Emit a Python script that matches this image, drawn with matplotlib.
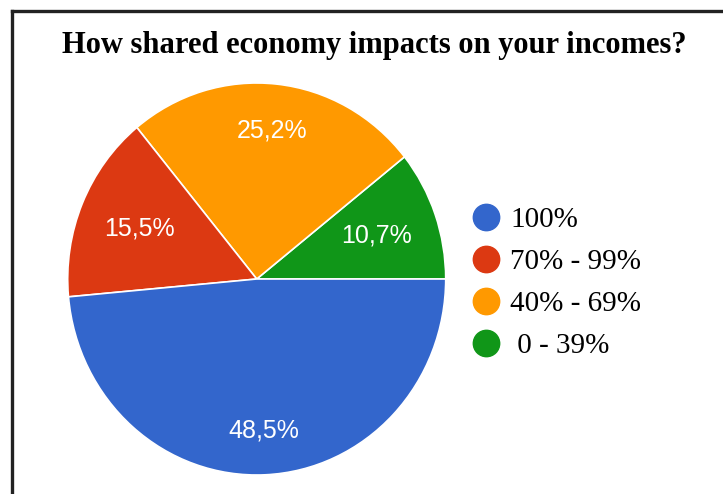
import matplotlib
matplotlib.use("Agg")
import matplotlib.pyplot as plt
from matplotlib.lines import Line2D
import numpy as np

title = "How shared economy impacts on your incomes?"
# slices drawn counter-clockwise from 3 o'clock
slice_labels = ["0 - 39%", "40% - 69%", "70% - 99%", "100%"]
shares = [10.7, 25.2, 15.5, 48.5]
colors = ["#109618", "#ff9900", "#dc3912", "#3366cc"]
# legend lists the groups the other way round
legend_order = [3, 2, 1, 0]
legend_text = ["100%", "70% - 99%", "40% - 69%", " 0 - 39%"]

W, H = 723, 494
fig = plt.figure(figsize=(W / 100, H / 100), dpi=100)
fig.patch.set_facecolor("white")

# frame lines along the top and left
fig.add_artist(Line2D([11.5 / W, 11.5 / W], [0, 1 - 11.5 / H], color="#222222", lw=2.4))
fig.add_artist(Line2D([11.5 / W, 1], [1 - 11.5 / H, 1 - 11.5 / H], color="#222222", lw=2.4))

fig.text(374 / W, 1 - 45 / H, title, ha="center", va="center",
         family="Liberation Serif", weight="bold", fontsize=22)

# pie area in pixels: centre (257, 279), rx 189, ry 196
cx, cy, rx, ry = 256.7, 279, 189, 196
ax = fig.add_axes([(cx - rx) / W, 1 - (cy + ry) / H, 2 * rx / W, 2 * ry / H])
wedges, texts, autotexts = ax.pie(
    shares, colors=colors, startangle=0, counterclock=True,
    autopct=lambda p: "", pctdistance=0.75,
    wedgeprops=dict(edgecolor="white", linewidth=1.2))

# labels sit a bit further in on the narrow slices
label_r = [0.673, 0.764, 0.673, 0.776]
for w, t, v, r in zip(wedges, autotexts, shares, label_r):
    mid = np.deg2rad((w.theta1 + w.theta2) / 2)
    t.set_position((r * np.cos(mid), r * np.sin(mid)))
    t.set_text(f"{v:.1f}%".replace(".", ","))
    t.set_color("white")
    t.set_fontsize(18)
    t.set_family("Liberation Sans")
ax.set_aspect("auto")
ax.set_xlim(-1, 1)
ax.set_ylim(-1, 1)
ax.axis("off")

handles = [Line2D([], [], marker="o", linestyle="none", markersize=19,
                  markerfacecolor=colors[i], markeredgecolor=colors[i])
           for i in legend_order]
fig.legend(handles, legend_text, loc="center left",
           bbox_to_anchor=(471.5 / W, 1 - 283 / H), frameon=False,
           prop=dict(family="Liberation Serif", size=21),
           handlelength=1.0, handletextpad=0.33, labelspacing=0.53,
           borderpad=0, borderaxespad=0)

fig.savefig("out.png", dpi=100, facecolor="white")
